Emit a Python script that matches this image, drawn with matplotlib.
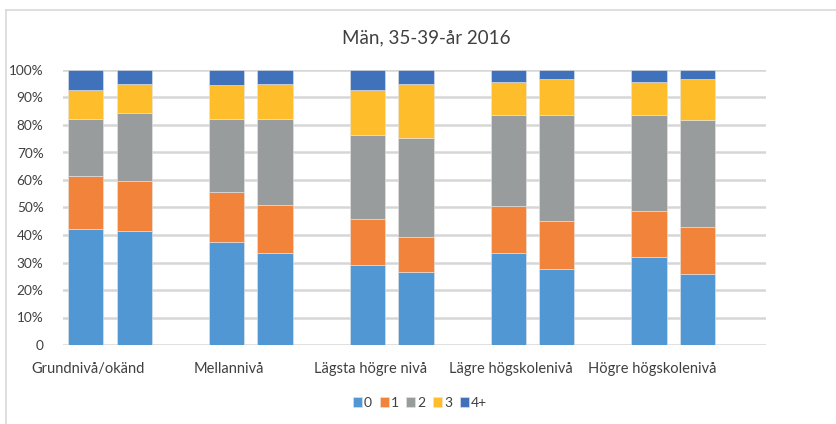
import matplotlib
matplotlib.use("Agg")
import matplotlib.pyplot as plt
from matplotlib.lines import Line2D
import numpy as np

plt.rcParams['font.family'] = ['Lato', 'DejaVu Sans']

categories = ["Grundnivå/okänd", "Mellannivå", "Lägsta högre nivå",
              "Lägre högskolenivå", "Högre högskolenivå"]
series_names = ["0", "1", "2", "3", "4+"]

# percentages, first bar of each group
bar_a = {
    "0":  [42.2, 37.5, 29.0, 33.3, 32.0],
    "1":  [19.3, 18.0, 16.7, 17.4, 16.7],
    "2":  [20.8, 26.8, 30.7, 32.9, 34.9],
    "3":  [10.4, 12.2, 16.2, 12.0, 12.0],
    "4+": [7.3, 5.5, 7.4, 4.4, 4.4],
}
# second bar of each group
bar_b = {
    "0":  [41.6, 33.3, 26.7, 27.8, 25.9],
    "1":  [18.0, 17.5, 12.5, 17.4, 16.9],
    "2":  [24.6, 31.5, 36.0, 38.4, 39.0],
    "3":  [10.8, 12.7, 19.8, 13.1, 14.9],
    "4+": [5.0, 5.0, 5.0, 3.3, 3.3],
}
colors = ['#5097D3', '#F2833B', '#999C9D', '#FEBE2B', '#3F72BB']

W, H = 837, 424
fig = plt.figure(figsize=(W / 100, H / 100), dpi=100)
ax = fig.add_axes([63 / W, 79 / H, (766 - 63) / W, (345 - 70) / H])

x = np.arange(len(categories))
xa = x
xb = x + 0.345
width = 0.25

for xs, data in ((xa, bar_a), (xb, bar_b)):
    bottom = np.zeros(len(categories))
    for name, c in zip(series_names, colors):
        vals = np.array(data[name])
        ax.bar(xs, vals, width=width, bottom=bottom, color=c,
               edgecolor='#e6e6e6', linewidth=0.4, zorder=3,
               label=name if xs is xa else None)
        bottom += vals

ax.set_xlim(-0.16, 4.83)
ax.set_ylim(0, 100)
yt = np.arange(0, 101, 10)
ax.set_yticks(yt)
ax.set_yticklabels(["0"] + [f"{v}%" for v in yt[1:]])
ax.yaxis.grid(True, color='#d6d6d6', linewidth=1.8, zorder=0)
ax.set_axisbelow(True)
ax.set_xticks(x + 0.02)
ax.set_xticklabels(categories)
for s in ax.spines.values():
    s.set_visible(False)
ax.tick_params(axis='both', length=0, colors='#404040')
ax.tick_params(axis='y', pad=14, labelsize=9.8)
ax.tick_params(axis='x', pad=12, labelsize=10.5)

fig.text(426 / W, 1 - 38 / H, "Män, 35-39-år 2016", ha='center', va='center',
         fontsize=13.5, color='#404040')

handles, labels = ax.get_legend_handles_labels()
leg = fig.legend(handles, labels, loc='center', bbox_to_anchor=(420 / W, 1 - 403 / H),
                 ncol=5, frameon=False, handlelength=0.65, handleheight=0.65,
                 handletextpad=0.15, columnspacing=0.55, fontsize=10)
for t in leg.get_texts():
    t.set_color('#404040')

# outer frame (top and left edges)
fig.add_artist(Line2D([6 / W, 1], [1 - 10 / H, 1 - 10 / H], color='#d9d9d9', lw=1.2,
                      transform=fig.transFigure))
fig.add_artist(Line2D([6 / W, 6 / W], [0, 1 - 10 / H], color='#d9d9d9', lw=1.2,
                      transform=fig.transFigure))

fig.savefig("out.png", dpi=100)
